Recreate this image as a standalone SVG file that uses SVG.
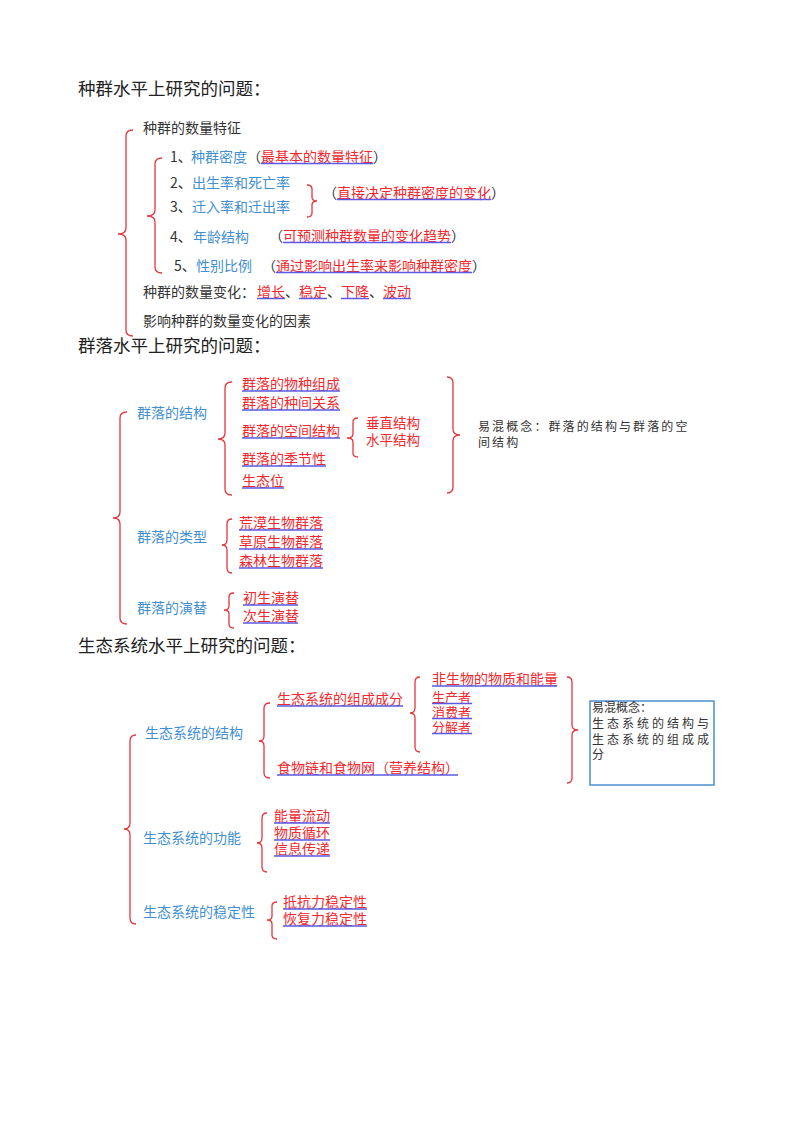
<svg xmlns="http://www.w3.org/2000/svg" width="800" height="1132" viewBox="0 0 800 1132">
<style>
text{font-family:"Noto Sans CJK SC","Liberation Sans",sans-serif;font-size:14px}
.h{font-size:17.5px;fill:#222}
.t{fill:#333}
.b{fill:#3f8fd2}
.r{fill:#f2282e}
.sm{font-size:13px}
.s{font-size:12px;fill:#333;letter-spacing:2.1px}
.s2{font-size:12px;fill:#333}
.u{stroke:#5a5ae6;stroke-width:1.5}
.br{fill:none;stroke:#e4363c;stroke-width:1.3}
</style>
<rect width="800" height="1132" fill="#fff"/>

<g id="connectors">
<path class="br" d="M133,130 Q126,130 126,136 L126,228 Q126,234 118,234 Q126,234 126,240 L126,330 Q126,336 133,336"/>
<path class="br" d="M162,158 Q155,158 155,164 L155,210 Q155,216 147,216 Q155,216 155,222 L155,267 Q155,273 162,273"/>
<path class="br" d="M307,185 Q312,185 312,189 L312,197 Q312,201 317,201 Q312,201 312,205 L312,213 Q312,217 307,217"/>
<path class="br" d="M127,412 Q120,412 120,418 L120,512 Q120,518 113,518 Q120,518 120,524 L120,618 Q120,624 127,624"/>
<path class="br" d="M232,382 Q225,382 225,388 L225,433 Q225,439 218,439 Q225,439 225,445 L225,489 Q225,495 232,495"/>
<path class="br" d="M358,418 Q353,418 353,422 L353,434 Q353,438 347,438 Q353,438 353,442 L353,453 Q353,457 358,457"/>
<path class="br" d="M447,377 Q453,377 453,383 L453,429 Q453,435 460,435 Q453,435 453,441 L453,487 Q453,493 447,493"/>
<path class="br" d="M232,519 Q227,519 227,524 L227,540 Q227,545 222,545 Q227,545 227,550 L227,568 Q227,573 232,573"/>
<path class="br" d="M234,593 Q229,593 229,597 L229,606 Q229,610 224,610 Q229,610 229,614 L229,624 Q229,628 234,628"/>
<path class="br" d="M136,735 Q130,735 130,741 L130,823 Q130,829 124,829 Q130,829 130,835 L130,918 Q130,924 136,924"/>
<path class="br" d="M270,703 Q264,703 264,708 L264,736 Q264,741 259,741 Q264,741 264,746 L264,773 Q264,778 270,778"/>
<path class="br" d="M420,677 Q415,677 415,682 L415,708 Q415,713 410,713 Q415,713 415,718 L415,747 Q415,752 420,752"/>
<path class="br" d="M567,677 Q572,677 572,682 L572,725 Q572,730 578,730 Q572,730 572,735 L572,778 Q572,783 567,783"/>
<path class="br" d="M267,813 Q262,813 262,818 L262,838 Q262,843 257,843 Q262,843 262,848 L262,867 Q262,872 267,872"/>
<path class="br" d="M277,902 Q272,902 272,906 L272,916 Q272,920 267,920 Q272,920 272,924 L272,935 Q272,939 277,939"/>
</g>

<!-- Section 1 -->
<g id="title1"><text class="h" x="78" y="95">种群水平上研究的问题：</text></g>
<g id="s1-feature"><text class="t" x="143" y="133">种群的数量特征</text></g>
<g id="s1-density">
<text class="t" x="170" y="162">1、</text>
<text class="b" x="191" y="162">种群密度</text>
<text class="t" x="247" y="162">（</text>
<text class="r" x="261" y="162">最基本的数量特征</text>
<text class="t" x="373" y="162">）</text>
<line class="u" x1="261" y1="163.5" x2="373" y2="163.5"/>
</g>
<g id="s1-birth">
<text class="t" x="170" y="188">2、</text>
<text class="b" x="192" y="188">出生率和死亡率</text>
</g>
<g id="s1-migration">
<text class="t" x="170" y="212">3、</text>
<text class="b" x="192" y="212">迁入率和迁出率</text>
</g>
<g id="s1-direct">
<text class="t" x="323" y="198">（</text>
<text class="r" x="337" y="198">直接决定种群密度的变化</text>
<text class="t" x="491" y="198">）</text>
<line class="u" x1="337" y1="199.5" x2="491" y2="199.5"/>
</g>
<g id="s1-age">
<text class="t" x="170" y="242">4、</text>
<text class="b" x="193" y="242">年龄结构</text>
<text class="t" x="269" y="241">（</text>
<text class="r" x="283" y="241">可预测种群数量的变化趋势</text>
<text class="t" x="451" y="241">）</text>
<line class="u" x1="283" y1="242.5" x2="451" y2="242.5"/>
</g>
<g id="s1-sex">
<text class="t" x="174" y="271">5、</text>
<text class="b" x="196" y="271">性别比例</text>
<text class="t" x="262" y="271">（</text>
<text class="r" x="276" y="271">通过影响出生率来影响种群密度</text>
<text class="t" x="472" y="271">）</text>
<line class="u" x1="276" y1="272.5" x2="472" y2="272.5"/>
</g>
<g id="s1-change">
<text class="t" x="143" y="297">种群的数量变化：</text>
<text class="r" x="257" y="297">增长</text>
<text class="t" x="285" y="297">、</text>
<text class="r" x="299" y="297">稳定</text>
<text class="t" x="327" y="297">、</text>
<text class="r" x="341" y="297">下降</text>
<text class="t" x="369" y="297">、</text>
<text class="r" x="383" y="297">波动</text>
<line class="u" x1="257" y1="298.5" x2="285" y2="298.5"/>
<line class="u" x1="299" y1="298.5" x2="327" y2="298.5"/>
<line class="u" x1="341" y1="298.5" x2="369" y2="298.5"/>
<line class="u" x1="383" y1="298.5" x2="411" y2="298.5"/>
</g>
<g id="s1-factors"><text class="t" x="143" y="326">影响种群的数量变化的因素</text></g>

<!-- Section 2 -->
<g id="title2"><text class="h" x="78" y="352">群落水平上研究的问题：</text></g>
<g id="s2-structure"><text class="b" x="137" y="418">群落的结构</text></g>
<g id="s2-structure-items">
<text class="r" x="242" y="389">群落的物种组成</text>
<line class="u" x1="242" y1="391" x2="340" y2="391"/>
<text class="r" x="242" y="408">群落的种间关系</text>
<line class="u" x1="242" y1="410" x2="340" y2="410"/>
<text class="r" x="242" y="436">群落的空间结构</text>
<line class="u" x1="242" y1="438" x2="340" y2="438"/>
<text class="r" x="242" y="464">群落的季节性</text>
<line class="u" x1="242" y1="466" x2="326" y2="466"/>
<text class="r" x="242" y="486">生态位</text>
<line class="u" x1="242" y1="488" x2="284" y2="488"/>
</g>
<g id="s2-spatial">
<text class="r" x="366" y="428" style="font-size:13.5px">垂直结构</text>
<text class="r" x="366" y="445" style="font-size:13.5px">水平结构</text>
</g>
<g id="s2-note">
<text class="s" x="478" y="431">易混概念：群落的结构与群落的空</text>
<text class="s" x="478" y="447">间结构</text>
</g>
<g id="s2-type"><text class="b" x="137" y="542">群落的类型</text></g>
<g id="s2-type-items">
<text class="r" x="239" y="528">荒漠生物群落</text>
<line class="u" x1="239" y1="530" x2="323" y2="530"/>
<text class="r" x="239" y="547">草原生物群落</text>
<line class="u" x1="239" y1="549" x2="323" y2="549"/>
<text class="r" x="239" y="566">森林生物群落</text>
<line class="u" x1="239" y1="568" x2="323" y2="568"/>
</g>
<g id="s2-succession"><text class="b" x="137" y="613">群落的演替</text></g>
<g id="s2-succession-items">
<text class="r" x="243" y="603">初生演替</text>
<line class="u" x1="243" y1="605" x2="298" y2="605"/>
<text class="r" x="243" y="621">次生演替</text>
<line class="u" x1="243" y1="623" x2="298" y2="623"/>
</g>

<!-- Section 3 -->
<g id="title3"><text class="h" x="78" y="652">生态系统水平上研究的问题：</text></g>
<g id="s3-structure"><text class="b" x="145" y="738">生态系统的结构</text></g>
<g id="s3-components">
<text class="r" x="277" y="704">生态系统的组成成分</text>
<line class="u" x1="277" y1="706" x2="403" y2="706"/>
</g>
<g id="s3-foodweb">
<text class="r" x="277" y="773">食物链和食物网（营养结构）</text>
<line class="u" x1="277" y1="775" x2="458" y2="775"/>
</g>
<g id="s3-component-items">
<text class="r" x="432" y="684">非生物的物质和能量</text>
<line class="u" x1="432" y1="686" x2="557" y2="686"/>
<text class="r sm" x="432" y="701.5">生产者</text>
<line class="u" x1="432" y1="703.5" x2="472" y2="703.5"/>
<text class="r sm" x="432" y="716.5">消费者</text>
<line class="u" x1="432" y1="718.5" x2="472" y2="718.5"/>
<text class="r sm" x="432" y="731.5">分解者</text>
<line class="u" x1="432" y1="733.5" x2="472" y2="733.5"/>
</g>
<g id="s3-note">
<rect x="590" y="701" width="124" height="84" fill="#fff" stroke="#4a8fcf" stroke-width="1.5"/>
<text class="s2" x="592" y="712">易混概念：</text>
<text class="s2" x="592" y="727.5" style="letter-spacing:3px">生态系统的结构与</text>
<text class="s2" x="592" y="743.5" style="letter-spacing:3px">生态系统的组成成</text>
<text class="s2" x="592" y="759">分</text>
</g>
<g id="s3-function"><text class="b" x="143" y="843">生态系统的功能</text></g>
<g id="s3-function-items">
<text class="r" x="274" y="821">能量流动</text>
<line class="u" x1="274" y1="823" x2="330" y2="823"/>
<text class="r" x="274" y="838">物质循环</text>
<line class="u" x1="274" y1="840" x2="330" y2="840"/>
<text class="r" x="274" y="854">信息传递</text>
<line class="u" x1="274" y1="856" x2="330" y2="856"/>
</g>
<g id="s3-stability"><text class="b" x="143" y="917">生态系统的稳定性</text></g>
<g id="s3-stability-items">
<text class="r" x="283" y="907">抵抗力稳定性</text>
<line class="u" x1="283" y1="909" x2="367" y2="909"/>
<text class="r" x="283" y="924">恢复力稳定性</text>
<line class="u" x1="283" y1="926" x2="367" y2="926"/>
</g>
</svg>
